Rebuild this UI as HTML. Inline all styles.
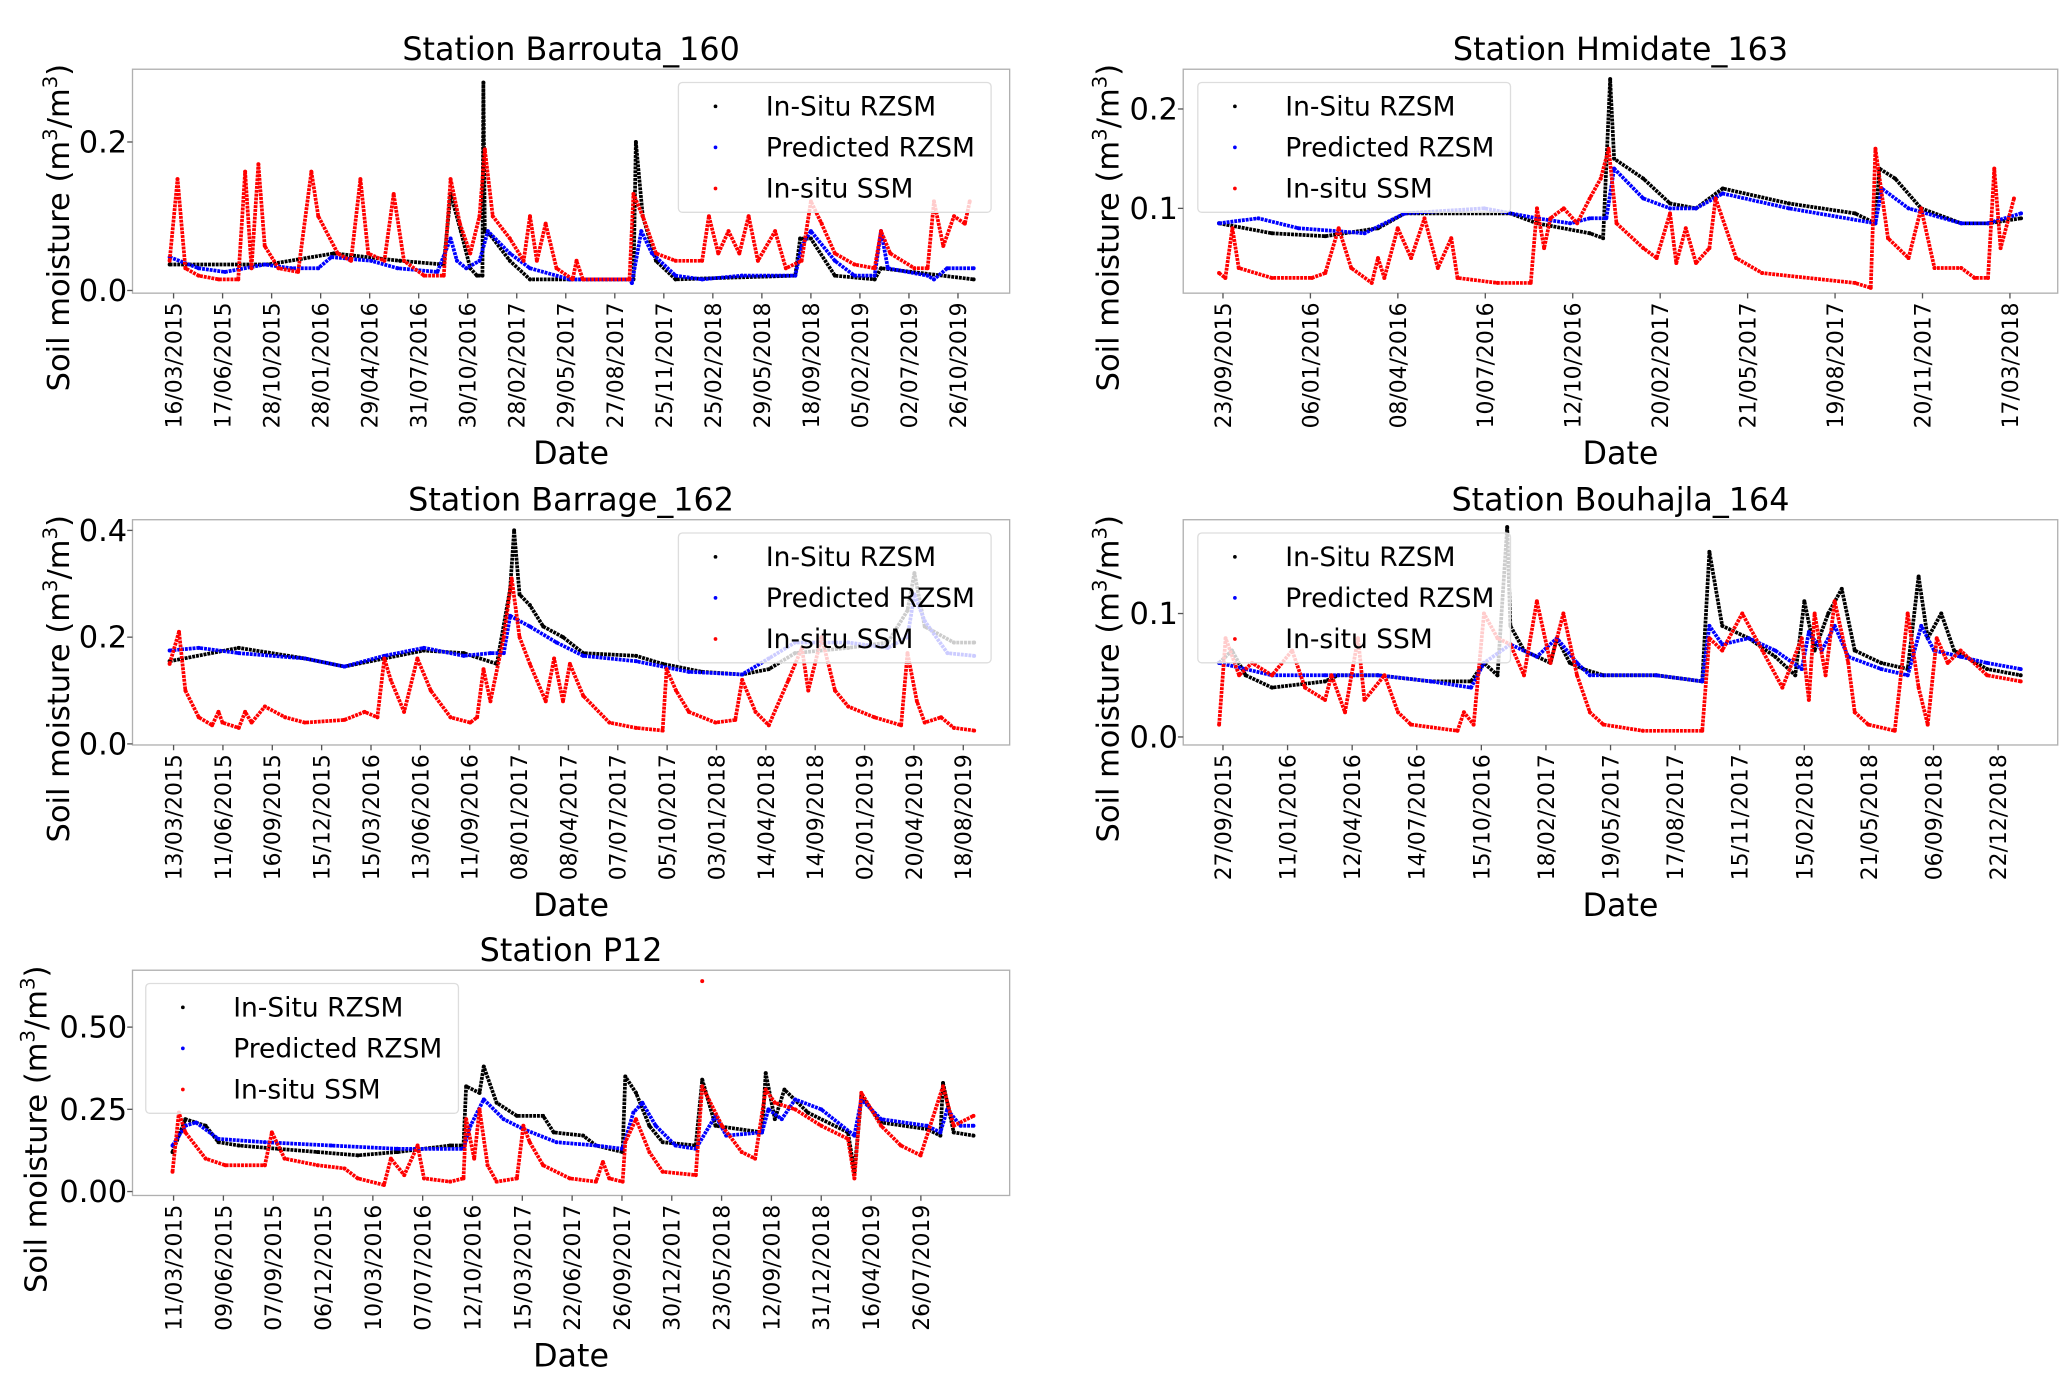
<!DOCTYPE html>
<html><head><meta charset="utf-8"><style>
html,body{margin:0;padding:0;background:#fff}
svg{display:block;font-family:"DejaVu Sans","Liberation Sans",sans-serif}
</style></head><body>
<svg id="fig" xmlns="http://www.w3.org/2000/svg" width="2067" height="1376" viewBox="0 0 1560 1038"></svg>
<script>
// ---- Barrouta_160 ----
const p1Ticks=["16/03/2015","17/06/2015","28/10/2015","28/01/2016","29/04/2016","31/07/2016","30/10/2016","28/02/2017","29/05/2017","27/08/2017","25/11/2017","25/02/2018","29/05/2018","18/09/2018","05/02/2019","02/07/2019","26/10/2019"];
const p1BlackT=[-8,192,327,462,551,565,586,605,619,630,632,635,646,686,727,808,938,943,957,984,1024,1268,1278,1300,1349,1430,1443,1632];
const p1BlackV=[.035,.035,.05,.04,.035,.13,.08,.03,.02,.02,.28,.08,.075,.04,.015,.015,.015,.2,.1,.04,.015,.02,.07,.07,.02,.015,.03,.015];
const p1BlueT=[-8,51,105,186,240,295,322,403,457,538,565,578,597,624,641,686,727,808,930,935,954,976,1024,1078,1159,1268,1281,1300,1349,1389,1430,1443,1457,1538,1551,1578,1632];
const p1BlueV=[.045,.03,.025,.035,.03,.03,.045,.04,.03,.025,.07,.04,.03,.04,.08,.05,.03,.015,.015,.01,.08,.05,.02,.015,.02,.02,.06,.08,.04,.02,.02,.08,.03,.02,.015,.03,.03];
const p1RedT=[-8,8,24,51,92,132,146,159,173,186,214,254,281,295,335,362,381,397,430,449,470,511,551,565,584,605,624,635,651,686,714,727,741,759,781,814,822,835,930,938,957,984,1024,1078,1092,1111,1132,1154,1173,1192,1227,1249,1281,1300,1322,1349,1389,1430,1443,1462,1511,1538,1551,1570,1592,1614,1624];
const p1RedV=[.04,.15,.03,.02,.015,.015,.16,.03,.17,.06,.03,.025,.16,.1,.05,.04,.15,.05,.04,.13,.04,.02,.02,.15,.09,.05,.1,.19,.1,.07,.04,.1,.04,.09,.03,.015,.04,.015,.015,.13,.1,.05,.04,.04,.1,.05,.08,.05,.1,.04,.08,.03,.04,.12,.09,.05,.035,.03,.08,.05,.03,.03,.12,.06,.1,.09,.12];
// ---- Hmidate_163 ----
const p2Ticks=["23/09/2015","06/01/2016","08/04/2016","10/07/2016","12/10/2016","20/02/2017","21/05/2017","19/08/2017","20/11/2017","17/03/2018"];
const p2BlackT=[-5,62,130,197,231,365,399,466,483,492,497,534,568,601,635,719,803,829,834,854,887,938,972,1014];
const p2BlackV=[.085,.075,.072,.08,.095,.095,.085,.075,.07,.23,.15,.13,.105,.1,.12,.105,.095,.085,.14,.13,.1,.085,.085,.09];
const p2BlueT=[-5,45,96,180,231,332,399,441,466,487,497,534,568,601,635,719,829,837,871,938,972,1014];
const p2BlueV=[.085,.09,.08,.075,.095,.1,.09,.085,.09,.09,.14,.11,.1,.1,.115,.1,.085,.12,.1,.085,.085,.095];
const p2RedT=[-5,3,12,20,62,113,130,147,163,189,197,205,222,239,256,273,290,298,349,391,399,408,416,433,450,466,480,490,500,534,551,568,576,588,601,618,626,652,685,803,823,829,845,871,887,904,938,955,972,980,988,1005];
const p2RedV=[.035,.03,.08,.04,.03,.03,.035,.08,.04,.025,.05,.03,.08,.05,.09,.04,.07,.03,.025,.025,.1,.06,.09,.1,.085,.11,.13,.16,.085,.06,.05,.095,.045,.08,.045,.06,.11,.05,.035,.025,.02,.16,.07,.05,.1,.04,.04,.03,.03,.14,.06,.11];
// ---- Barrage_162 ----
const p3Ticks=["13/03/2015","11/06/2015","16/09/2015","15/12/2015","15/03/2016","13/06/2016","11/09/2016","08/01/2017","08/04/2017","07/07/2017","05/10/2017","03/01/2018","14/04/2018","14/09/2018","02/01/2019","20/04/2019","18/08/2019"];
const p3BlackT=[-8,132,266,346,427,507,588,655,682,690,701,722,749,789,830,937,991,1071,1152,1206,1259,1367,1447,1487,1501,1522,1581,1622];
const p3BlackV=[.155,.18,.16,.145,.16,.175,.17,.15,.29,.4,.28,.26,.22,.2,.17,.165,.15,.135,.13,.14,.17,.18,.19,.25,.32,.22,.19,.19];
const p3BlueT=[-8,51,132,266,346,427,507,588,642,669,682,722,776,830,937,1044,1152,1206,1259,1367,1447,1487,1501,1522,1568,1622];
const p3BlueV=[.175,.18,.17,.16,.145,.165,.18,.165,.17,.17,.24,.22,.19,.165,.155,.135,.13,.16,.19,.19,.18,.2,.28,.23,.17,.165];
const p3RedT=[-8,11,24,51,78,91,99,132,145,158,185,226,266,346,387,413,427,440,467,494,521,561,601,615,628,642,669,685,701,722,754,771,789,803,830,883,937,991,999,1018,1044,1098,1138,1152,1179,1206,1246,1273,1286,1313,1340,1367,1420,1474,1487,1506,1522,1555,1581,1622];
const p3RedV=[.15,.21,.1,.05,.035,.06,.04,.03,.06,.04,.07,.05,.04,.045,.06,.05,.16,.12,.06,.16,.1,.05,.04,.05,.14,.08,.2,.31,.2,.15,.08,.16,.08,.15,.09,.04,.03,.025,.14,.1,.06,.04,.045,.12,.06,.035,.12,.18,.1,.2,.1,.07,.05,.035,.17,.08,.04,.05,.03,.025];
// ---- Bouhajla_164 ----
const p4Ticks=["27/09/2015","11/01/2016","12/04/2016","14/07/2016","15/10/2016","18/02/2017","19/05/2017","17/08/2017","15/11/2017","15/02/2018","21/05/2018","06/09/2018","22/12/2018"];
const p4BlackT=[-6,14,35,76,158,178,240,322,384,404,425,440,445,466,507,517,537,558,589,671,742,753,773,814,855,886,900,916,937,958,978,1019,1060,1077,1091,1112,1132,1183,1235];
const p4BlackV=[.06,.07,.05,.04,.045,.05,.05,.045,.045,.06,.05,.17,.09,.07,.06,.08,.06,.055,.05,.05,.045,.15,.09,.08,.065,.05,.11,.07,.1,.12,.07,.06,.055,.13,.08,.1,.07,.055,.05];
const p4BlueT=[-6,35,76,158,240,322,384,404,445,486,517,548,568,671,742,753,773,814,855,896,907,927,947,968,1019,1060,1081,1101,1142,1183,1235];
const p4BlueV=[.06,.055,.05,.05,.05,.045,.04,.06,.075,.065,.08,.06,.05,.05,.045,.09,.075,.08,.07,.055,.085,.07,.09,.065,.055,.05,.09,.07,.065,.06,.055];
const p4RedT=[-6,4,25,45,76,107,127,158,168,189,209,219,250,271,291,363,373,388,404,425,445,466,486,507,527,548,568,589,650,742,753,773,804,835,866,896,907,916,933,947,968,978,999,1040,1060,1077,1091,1105,1122,1142,1183,1235];
const p4RedV=[.01,.08,.05,.06,.05,.07,.04,.03,.05,.02,.08,.03,.05,.02,.01,.005,.02,.01,.1,.08,.075,.05,.11,.06,.1,.05,.02,.01,.005,.005,.08,.07,.1,.07,.04,.08,.03,.1,.05,.11,.06,.02,.01,.005,.1,.04,.01,.08,.06,.07,.05,.045];
// ---- P12 ----
const p5Ticks=["11/03/2015","09/06/2015","07/09/2015","06/12/2015","10/03/2016","07/07/2016","12/10/2016","15/03/2017","22/06/2017","26/09/2017","30/12/2017","23/05/2018","12/09/2018","31/12/2018","16/04/2019","26/07/2019"];
const p5BlackT=[-2,22,60,84,122,196,270,345,419,518,543,548,573,581,605,643,692,712,767,791,841,846,866,891,916,978,990,1015,1102,1109,1126,1144,1188,1263,1275,1288,1325,1411,1436,1441,1461,1498];
const p5BlackV=[.12,.22,.2,.15,.14,.13,.12,.11,.12,.14,.14,.32,.3,.38,.27,.23,.23,.18,.17,.14,.12,.35,.3,.2,.15,.14,.34,.2,.18,.36,.22,.31,.24,.18,.06,.29,.21,.19,.17,.33,.18,.17];
const p5BlueT=[-2,22,42,84,171,295,419,543,556,581,618,655,717,791,841,861,878,903,940,978,1015,1035,1102,1114,1139,1164,1213,1275,1288,1325,1411,1436,1449,1474,1498];
const p5BlueV=[.14,.2,.21,.16,.15,.14,.13,.13,.2,.28,.22,.19,.15,.14,.13,.24,.27,.2,.14,.13,.23,.17,.18,.25,.22,.28,.25,.17,.28,.22,.2,.18,.25,.2,.2];
const p5RedT=[-2,10,22,60,97,171,184,208,270,320,345,394,407,432,457,469,518,543,548,563,573,588,605,643,655,667,692,742,791,804,816,841,846,866,891,916,978,990,1027,1064,1089,1109,1126,1164,1213,1263,1275,1288,1325,1362,1399,1441,1461,1498];
const p5RedV=[.06,.24,.18,.1,.08,.08,.18,.1,.08,.07,.04,.02,.1,.05,.14,.04,.03,.04,.22,.1,.25,.08,.03,.04,.2,.15,.08,.04,.03,.09,.04,.03,.15,.22,.12,.06,.05,.32,.2,.12,.1,.31,.27,.25,.2,.16,.04,.3,.2,.14,.11,.32,.2,.23];
const p5OutT=[990];
const p5OutV=[0.64];

const NS="http://www.w3.org/2000/svg";
const fig=document.getElementById('fig');
function mk(tag,attrs,parent){const e=document.createElementNS(NS,tag);for(const k in attrs)e.setAttribute(k,attrs[k]);(parent||fig).appendChild(e);return e;}

// pps = pixels per 100 samples; tickEvery = samples between labelled ticks
const panels=[
 {name:"barrouta-160",title:"Station Barrouta_160",x0:100,x1:762,y0:52,y1:221,ylim:[-0.0036,0.298],yt:[0,0.2],yfmt:1,tx0:131,pps:37,tickEvery:100,ticks:p1Ticks,
  series:[[p1BlackT,p1BlackV,"#000"],[p1BlueT,p1BlueV,"#00f"],[p1RedT,p1RedV,"#f00"]],leg:[512,62],ylx:44},
 {name:"hmidate-163",title:"Station Hmidate_163",x0:893,x1:1553,y0:52,y1:221,ylim:[0.0147,0.24],yt:[0.1,0.2],yfmt:1,tx0:923,pps:59.4,tickEvery:111.1,ticks:p2Ticks,
  series:[[p2BlackT,p2BlackV,"#000"],[p2BlueT,p2BlueV,"#00f"],[p2RedT,p2RedV,"#f00"]],leg:[904,62],ylx:836},
 {name:"barrage-162",title:"Station Barrage_162",x0:100,x1:762,y0:392,y1:562,ylim:[-0.002,0.42],yt:[0,0.2,0.4],yfmt:1,tx0:131,pps:37.25,tickEvery:100,ticks:p3Ticks,
  series:[[p3BlackT,p3BlackV,"#000"],[p3BlueT,p3BlueV,"#00f"],[p3RedT,p3RedV,"#f00"]],leg:[512,402],ylx:44},
 {name:"bouhajla-164",title:"Station Bouhajla_164",x0:893,x1:1553,y0:392,y1:562,ylim:[-0.0065,0.176],yt:[0,0.1],yfmt:1,tx0:923,pps:48.75,tickEvery:100,ticks:p4Ticks,
  series:[[p4BlackT,p4BlackV,"#000"],[p4BlueT,p4BlueV,"#00f"],[p4RedT,p4RedV,"#f00"]],leg:[904,402],ylx:836},
 {name:"p12",title:"Station P12",x0:100,x1:762,y0:732,y1:902,ylim:[-0.012,0.673],yt:[0,0.25,0.5],yfmt:2,tx0:131,pps:40.3,tickEvery:93.3,ticks:p5Ticks,
  series:[[p5BlackT,p5BlackV,"#000"],[p5BlueT,p5BlueV,"#00f"],[p5RedT,p5RedV,"#f00"],[p5OutT,p5OutV,"#f00",true]],leg:[110,742],ylx:27}
];

panels.forEach(p=>{
  const g=mk('g',{});
  
  
  const X=s=>p.tx0+s/100*p.pps;
  const Y=v=>p.y1-(v-p.ylim[0])/(p.ylim[1]-p.ylim[0])*(p.y1-p.y0);
  const cx=(p.x0+p.x1)/2;
  const t=mk('text',{x:cx,y:p.y0-7,'text-anchor':'middle','font-size':24},g);t.textContent=p.title;
  
  
  const sg=mk('g',{},g);
  
  
  p.series.forEach((s,si)=>{
    const [T,V,col,dotsOnly]=s;
    if(!dotsOnly){
      const pts=T.map((tt,i)=>X(tt).toFixed(1)+","+Y(V[i]).toFixed(1)).join(" ");
      const pl=mk('polyline',{points:pts,fill:'none',stroke:col,'stroke-width':2.8,'stroke-dasharray':'2.2 0.7','stroke-linejoin':'round'},sg);
      
      
    }
    T.forEach((tt,i)=>{
      const c=mk('circle',{cx:X(tt),cy:Y(V[i]),r:1.5,fill:col},sg);
      
      
    });
  });
  const fr=mk('rect',{x:p.x0,y:p.y0,width:p.x1-p.x0,height:p.y1-p.y0,fill:'none',stroke:'#b0b0b0','stroke-width':1},g);
  
  
  p.yt.forEach(v=>{
    const yy=Y(v);
    mk('line',{x1:p.x0-4,x2:p.x0,y1:yy,y2:yy,stroke:'#555','stroke-width':1},g);
    const tl=mk('text',{x:p.x0-4,y:yy+8,'text-anchor':'end','font-size':23},g);
    tl.textContent=v.toFixed(p.yfmt);
    
    
  });
  p.ticks.forEach((lab,i)=>{
    const xx=X(i*p.tickEvery);
    mk('line',{x1:xx,x2:xx,y1:p.y1,y2:p.y1+4,stroke:'#555','stroke-width':1},g);
    const tl=mk('text',{transform:`translate(${xx+6},${p.y1+7}) rotate(-90)`,'text-anchor':'end','font-size':16.5},g);
    tl.textContent=lab;
    
    
  });
  const xl=mk('text',{x:cx,y:p.y1+129,'text-anchor':'middle','font-size':24},g);xl.textContent="Date";
  
  
  const ycy=(p.y0+p.y1)/2+35;
  const yl=mk('text',{transform:`translate(${p.ylx+8},${ycy}) rotate(-90)`,'text-anchor':'middle','font-size':23},g);
  yl.innerHTML='Soil moisture (m<tspan dy="-9" font-size="15">3</tspan><tspan dy="9">/m</tspan><tspan dy="-9" font-size="15">3</tspan><tspan dy="9">)</tspan>';
  
  
  const [lx,ly]=p.leg;
  const lg=mk('g',{},g);
  
  
  mk('rect',{x:lx,y:ly,width:236,height:98,rx:3,fill:'#fff','fill-opacity':0.8,stroke:'#ddd','stroke-width':1},lg);
  [["In-Situ RZSM","#000"],["Predicted RZSM","#00f"],["In-situ SSM","#f00"]].forEach((e,i)=>{
    const yy=ly+18+i*31;
    mk('circle',{cx:lx+28,cy:yy,r:1.4,fill:e[1]},lg);
    const et=mk('text',{x:lx+66,y:yy+7,'font-size':20},lg);
    et.textContent=e[0];
    
    
  });
});
</script>
</body></html>
